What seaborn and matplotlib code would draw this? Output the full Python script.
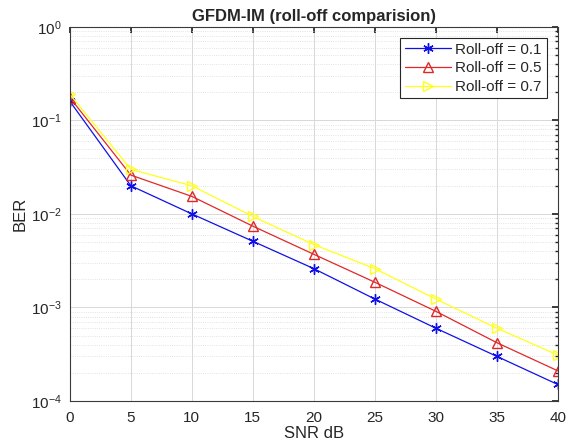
import matplotlib
matplotlib.use("Agg")
import matplotlib.pyplot as plt
import pandas as pd
import seaborn as sns

# Data
snr = [0, 5, 10, 15, 20, 25, 30, 35, 40]
ber_01 = [0.16, 0.020, 0.010, 0.0051, 0.0026, 0.00123, 0.0006, 0.0003, 0.00015]
ber_05 = [0.175, 0.026, 0.0154, 0.0074, 0.0037, 0.00186, 0.00091, 0.00042, 0.00021]
ber_07 = [0.19, 0.030, 0.020, 0.0094, 0.0047, 0.0026, 0.00123, 0.0006, 0.00031]
labels = ["Roll-off = 0.1", "Roll-off = 0.5", "Roll-off = 0.7"]

df = pd.concat([
    pd.DataFrame({"snr": snr, "ber": ber_01, "series": labels[0]}),
    pd.DataFrame({"snr": snr, "ber": ber_05, "series": labels[1]}),
    pd.DataFrame({"snr": snr, "ber": ber_07, "series": labels[2]}),
])

sns.set_theme(style="whitegrid")
plt.rcParams["font.family"] = ["Liberation Sans", "DejaVu Sans"]

fig, ax = plt.subplots(figsize=(5.68, 4.48), dpi=100)
fig.subplots_adjust(left=0.123, right=0.982, top=0.94, bottom=0.105)

palette = {labels[0]: "#1010e6", labels[1]: "#e02828", labels[2]: "#ffff1a"}
# MATLAB style markers: asterisk, open triangles
markers = {labels[0]: (6, 2, 0), labels[1]: "^", labels[2]: ">"}
for lab in labels:
    sub = df[df["series"] == lab]
    sns.lineplot(data=sub, x="snr", y="ber", ax=ax, color=palette[lab],
                 marker=markers[lab], markersize=7.5, linewidth=0.9,
                 markerfacecolor="none", markeredgecolor=palette[lab],
                 markeredgewidth=1.0, label=lab)

ax.set_yscale("log")
ax.set_xlim(0, 40)
ax.set_ylim(1e-4, 1)
ax.set_xticks(range(0, 41, 5))
ax.set_facecolor("white")
ax.grid(True, which="major", color="#d8d8d8", linewidth=0.7, linestyle="-")
ax.grid(True, which="minor", color="#dadada", linewidth=0.6, linestyle=":")
for s in ax.spines.values():
    s.set_visible(True)
    s.set_color("#3a3a3a")
    s.set_linewidth(0.8)
ax.tick_params(which="both", direction="in", top=True, right=True,
               labelsize=11, colors="#262626", length=4)
ax.tick_params(which="minor", length=2)
ax.tick_params(axis="x", pad=7)
ax.tick_params(axis="y", pad=6)

ax.set_title("GFDM-IM (roll-off comparision)", fontsize=12, fontweight="bold", pad=4)
ax.set_xlabel("SNR dB", fontsize=12, labelpad=1)
ax.set_ylabel("BER", fontsize=12, labelpad=2)

leg = ax.legend(loc="upper right", fontsize=11, frameon=True, fancybox=False,
                edgecolor="#262626", framealpha=1, borderpad=0.3,
                handlelength=3.0, handletextpad=0.3, labelspacing=0.3,
                borderaxespad=0, bbox_to_anchor=(0.977, 0.97))
leg.get_frame().set_linewidth(0.8)

fig.savefig("out.png", dpi=100)
